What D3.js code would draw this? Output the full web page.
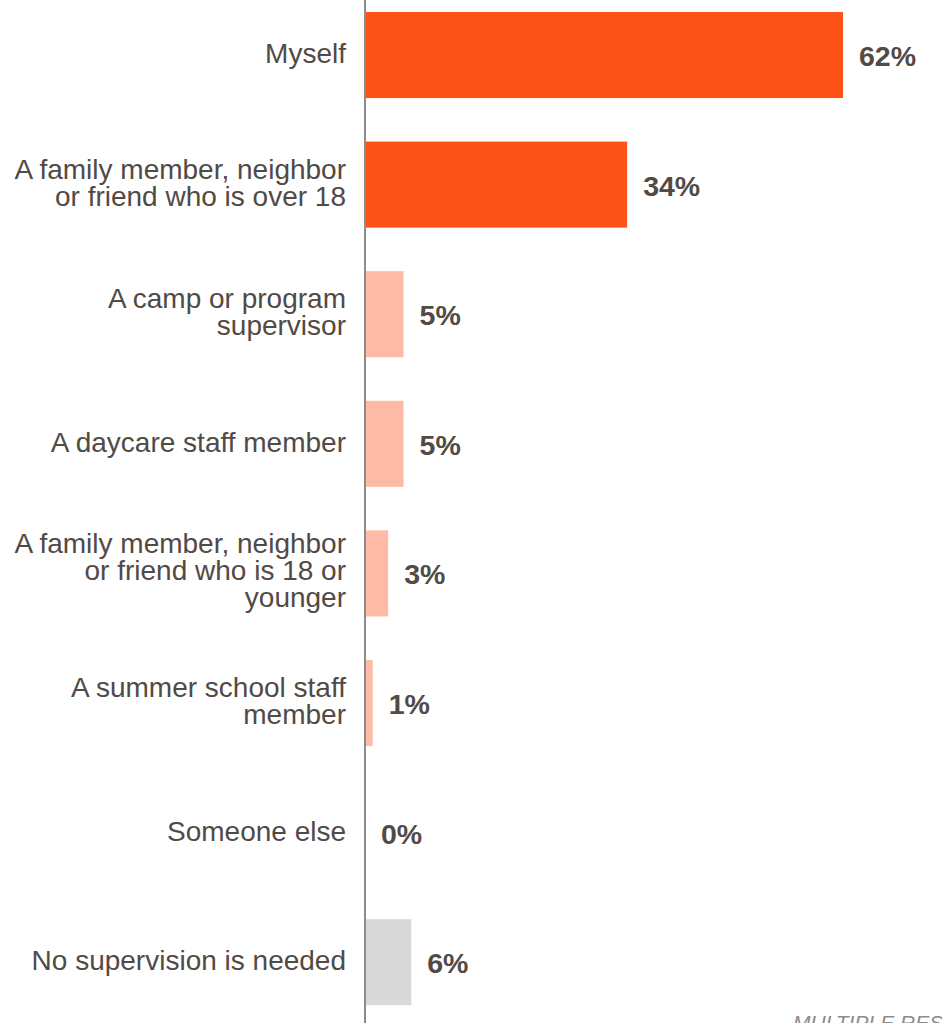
<!DOCTYPE html>
<html>
<head>
<meta charset="utf-8">
<script src="https://cdn.jsdelivr.net/npm/d3@7"></script>
<style>
  html, body { margin: 0; padding: 0; background: #ffffff; }
  svg { display: block; }
</style>
</head>
<body>
<div id="chart"></div>
<script>
// Who supervises the children during the summer
const categories = [
  "Myself",
  "A family member, neighbor or friend who is over 18",
  "A camp or program supervisor",
  "A daycare staff member",
  "A family member, neighbor or friend who is 18 or younger",
  "A summer school staff member",
  "Someone else",
  "No supervision is needed"
];
const categoryLines = [
  ["Myself"],
  ["A family member, neighbor", "or friend who is over 18"],
  ["A camp or program", "supervisor"],
  ["A daycare staff member"],
  ["A family member, neighbor", "or friend who is 18 or", "younger"],
  ["A summer school staff", "member"],
  ["Someone else"],
  ["No supervision is needed"]
];
const values = [62, 34, 5, 5, 3, 1, 0, 6];
const groups = ["main", "main", "other", "other", "other", "other", "other", "none"];
const footnote = "MULTIPLE RESPONSES";

const W = 942, H = 1023;
const axisX = 365;

const svg = d3.select("#chart").append("svg")
  .attr("width", W).attr("height", H);

const x = d3.scaleLinear().domain([0, 62]).range([axisX, 843]);
const y = d3.scaleBand()
  .domain(categories)
  .range([-9.8, 1027])
  .paddingInner(0.336)
  .paddingOuter(0.168);

const color = d3.scaleOrdinal()
  .domain(["main", "other", "none"])
  .range(["#FD5218", "#FDBBA5", "#D9D9D9"]);

const textColor = "#514A45";
const font = "'Liberation Sans', Arial, sans-serif";

const rows = categories.map((c, i) => ({ c, lines: categoryLines[i], v: values[i], g: groups[i] }));

// bars
svg.append("g").selectAll("rect")
  .data(rows)
  .join("rect")
  .attr("x", x(0))
  .attr("y", d => y(d.c))
  .attr("width", d => x(d.v) - x(0))
  .attr("height", y.bandwidth())
  .attr("fill", d => color(d.g));

// vertical axis line
svg.append("line")
  .attr("x1", axisX).attr("x2", axisX)
  .attr("y1", 0).attr("y2", H)
  .attr("stroke", "#8C8C8C")
  .attr("stroke-width", 2);

// category labels (right-aligned, multi-line)
const lineH = 27;
const catLabels = svg.append("g")
  .attr("font-family", font)
  .attr("font-size", 28)
  .attr("fill", textColor)
  .attr("text-anchor", "end");

rows.forEach(d => {
  const cy = y(d.c) + y.bandwidth() / 2;
  const n = d.lines.length;
  const first = cy + 8 - (n - 1) * 14;
  const t = catLabels.append("text");
  d.lines.forEach((ln, k) => {
    t.append("tspan")
      .attr("x", 346)
      .attr("y", first + k * lineH)
      .text(ln);
  });
});

// value labels
svg.append("g").selectAll("text")
  .data(rows)
  .join("text")
  .attr("x", d => x(d.v) + 16)
  .attr("y", d => y(d.c) + y.bandwidth() / 2 + 11)
  .attr("font-family", font)
  .attr("font-size", 28.5)
  .attr("font-weight", "bold")
  .attr("fill", textColor)
  .text(d => d.v + "%");

// footnote
svg.append("text")
  .attr("x", 793)
  .attr("y", 1030)
  .attr("font-family", font)
  .attr("font-size", 21)
  .attr("font-style", "italic")
  .attr("fill", "#8C8C8C")
  .text(footnote);
</script>
</body>
</html>
